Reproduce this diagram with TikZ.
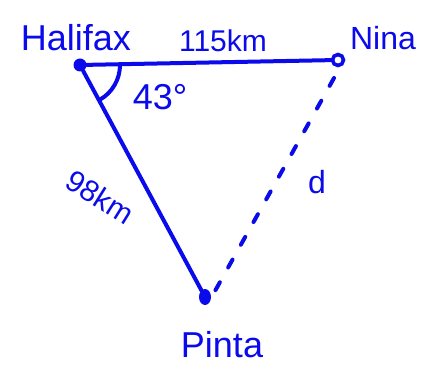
\documentclass[tikz,border=0pt]{standalone}
\usepackage{fontspec}
\setmainfont{Liberation Sans}
\usetikzlibrary{shapes.geometric}
\definecolor{pen}{RGB}{10,10,235}
\tikzset{
  seg/.style={pen,line width=4pt,line cap=round},
  dot/.style={circle,fill=pen,inner sep=0pt,minimum size=13pt},
  lbl/.style={pen,inner sep=1pt,font=\fontsize{32}{34}\selectfont}
}
\begin{document}
\begin{tikzpicture}[x=1pt,y=-1pt]
\useasboundingbox (0,0) rectangle (425,371);
% the three ships
\node[dot] (hal) at (80,65) {};
\node[circle,draw=pen,line width=3.6pt,fill=white,inner sep=0pt,minimum size=11pt] (nina) at (338,60) {};
\node[dot,ellipse,minimum width=12pt,minimum height=16pt] (pinta) at (205,297) {};
\node[lbl,font=\fontsize{36}{38}\selectfont] (tHal) at (76,38) {Halifax};
\node[lbl] (tNina) at (383,38) {Nina};
\node[lbl,font=\fontsize{36}{38}\selectfont] (tPinta) at (222,345) {Pinta};
% sides
\draw[seg] (hal) -- (nina);
\node[lbl,font=\fontsize{30}{32}\selectfont] (tTop) at (223,41) {115km};
\draw[seg] (hal) -- (pinta);
\draw[seg,dash pattern=on 9pt off 17pt] ([shift={(-4,18)}]nina.center) -- ([shift={(10,-6)}]pinta.center);
\node[lbl,font=\fontsize{30}{32}\selectfont,rotate=-32] (tLeft) at (100,197) {98km};
\node[lbl] (tD) at (317,182) {d};
% angle at Halifax
\draw[seg] ([shift={(0:40)}]hal.center) arc[start angle=0,end angle=60,radius=40];
\node[lbl,font=\fontsize{36}{38}\selectfont] (tAng) at (160,97) {43°};
\end{tikzpicture}
\end{document}
